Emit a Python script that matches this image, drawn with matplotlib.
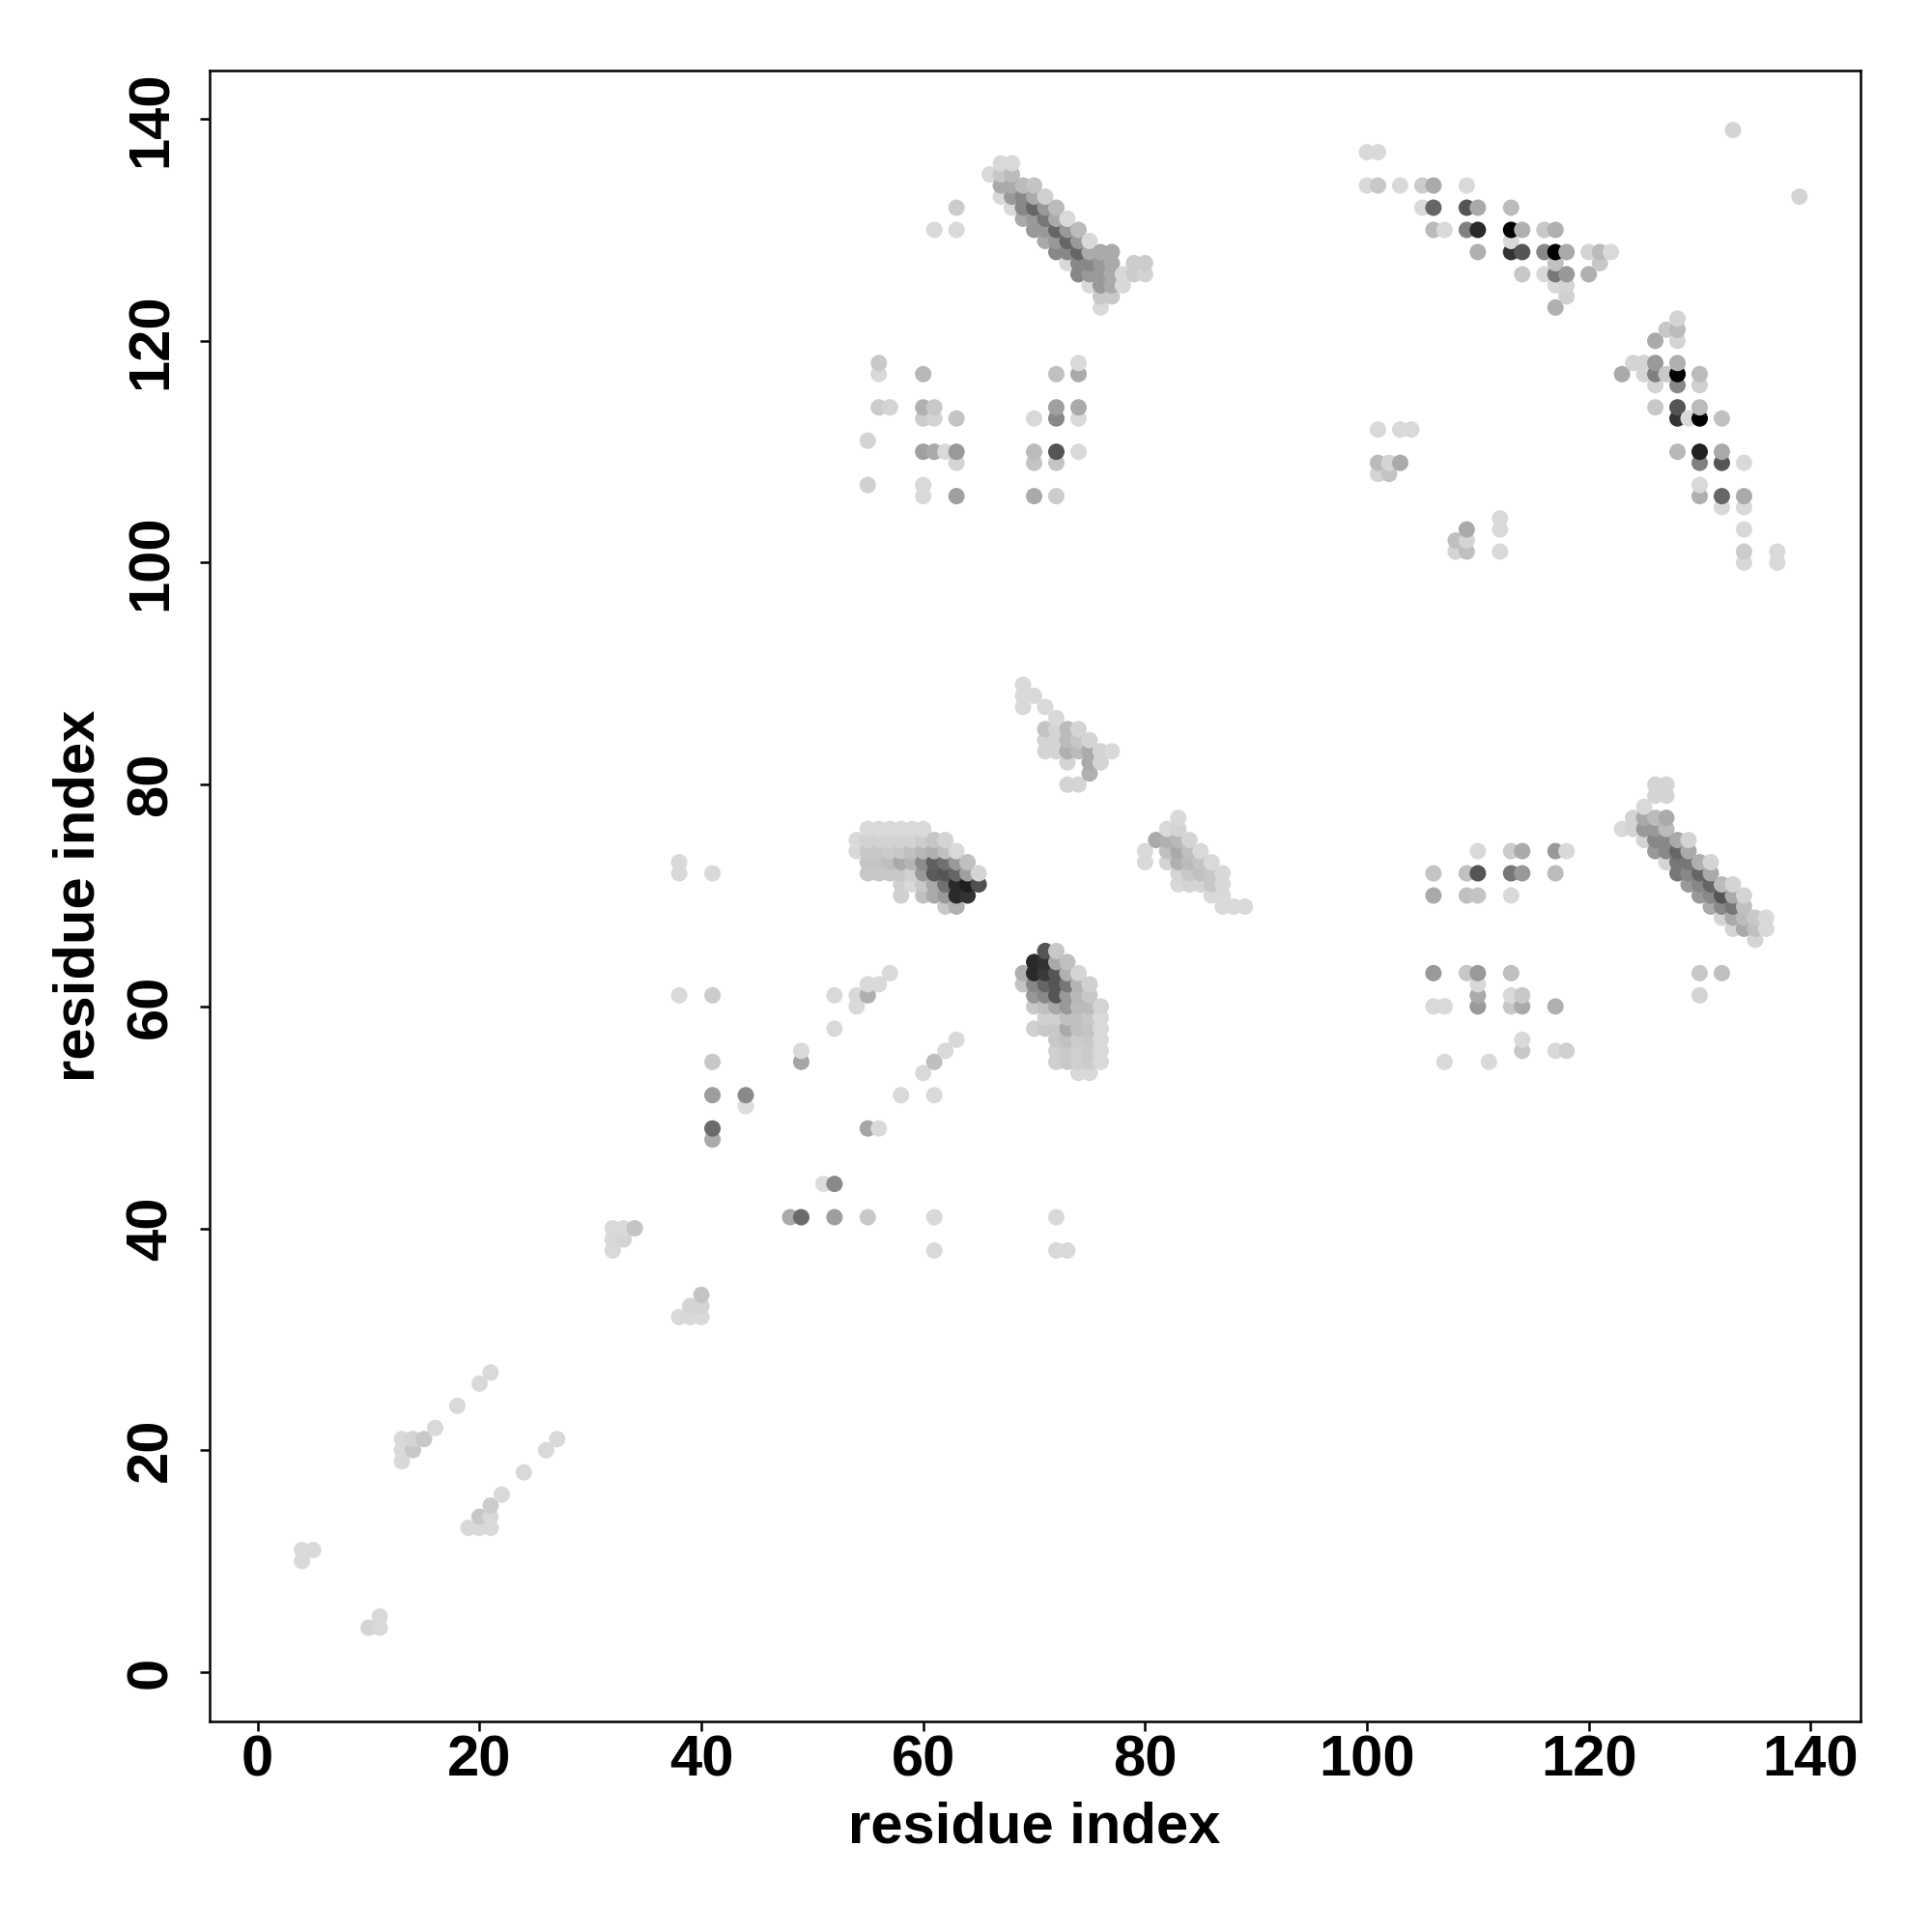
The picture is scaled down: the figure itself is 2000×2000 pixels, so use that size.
import matplotlib
matplotlib.use("Agg")
import matplotlib.pyplot as plt
import numpy as np

# contact map points: (residue i, residue j, grey level 0-255)
diag_low = [
    (4, 10, 217), (4, 11, 217), (5, 11, 217),
    (10, 4, 212), (11, 4, 217), (11, 5, 217),
    (13, 19, 217), (13, 20, 217), (13, 21, 217), (14, 20, 200), (14, 21, 212),
    (15, 21, 200), (16, 22, 217), (18, 24, 217), (20, 26, 217), (21, 27, 217),
    (19, 13, 217), (20, 13, 217), (21, 13, 217), (20, 14, 200), (21, 14, 217),
    (21, 15, 204), (22, 16, 217), (24, 18, 217), (26, 20, 217), (27, 21, 217),
    (32, 38, 217), (32, 39, 217), (32, 40, 217), (33, 39, 212), (33, 40, 217), (34, 40, 196),
    (38, 32, 217), (39, 32, 217), (40, 32, 217), (39, 33, 212), (40, 33, 212), (40, 34, 196),
]

mid_sparse = [
    (38, 61, 217), (41, 61, 204), (41, 55, 200), (41, 52, 158), (41, 49, 107), (41, 48, 170),
    (44, 51, 220), (44, 52, 138), (49, 56, 217), (49, 55, 165), (52, 61, 217), (52, 58, 217),
    (54, 60, 217), (54, 61, 217), (55, 61, 175), (55, 62, 217), (56, 62, 217), (57, 63, 217),
    (55, 49, 165), (56, 49, 217), (51, 44, 220), (52, 44, 138), (48, 41, 170), (49, 41, 107),
    (52, 41, 158), (55, 41, 200), (38, 72, 217), (38, 73, 217), (41, 72, 217),
    (61, 41, 217), (61, 38, 217), (72, 41, 217), (72, 38, 217), (73, 38, 217),
    (58, 52, 217), (60, 54, 217), (61, 55, 190), (62, 56, 217), (63, 57, 217), (61, 52, 217),
]

block_upper = [
    (55, 76, 217), (56, 76, 217), (57, 76, 217), (58, 76, 217), (59, 76, 217), (60, 76, 217),
    (54, 75, 217), (55, 75, 210), (56, 75, 210), (57, 75, 210), (58, 75, 210), (59, 75, 210),
    (60, 75, 205), (61, 75, 198), (62, 75, 212),
    (54, 74, 217), (55, 74, 200), (56, 74, 200), (57, 74, 204), (58, 74, 200), (59, 74, 192),
    (60, 74, 184), (61, 74, 176), (62, 74, 192), (63, 74, 217),
    (55, 73, 196), (56, 73, 196), (57, 73, 191), (58, 73, 170), (59, 73, 180), (60, 73, 140),
    (61, 73, 96), (62, 73, 112), (63, 73, 153), (64, 73, 192),
    (55, 72, 200), (56, 72, 200), (57, 72, 200), (58, 72, 200), (59, 72, 208), (60, 72, 153),
    (61, 72, 90), (62, 72, 85), (63, 72, 102), (64, 72, 160), (65, 72, 212),
    (58, 71, 208), (59, 71, 217), (60, 71, 200), (61, 71, 168), (62, 71, 112), (63, 71, 42),
    (64, 71, 30), (65, 71, 80),
    (58, 70, 208), (60, 70, 192), (61, 70, 170), (62, 70, 153), (63, 70, 42), (64, 70, 51),
    (62, 69, 200), (63, 69, 176),
]

block_lower = [
    (71, 65, 85), (72, 65, 200),
    (70, 64, 42), (71, 64, 51), (72, 64, 168), (73, 64, 192),
    (69, 63, 176), (70, 63, 42), (71, 63, 58), (72, 63, 85), (73, 63, 176), (74, 63, 212),
    (69, 62, 196), (70, 62, 136), (71, 62, 102), (72, 62, 85), (73, 62, 119), (74, 62, 180), (75, 62, 208),
    (70, 61, 153), (71, 61, 136), (72, 61, 85), (73, 61, 153), (74, 61, 184), (75, 61, 200),
    (70, 60, 200), (71, 60, 192), (72, 60, 168), (73, 60, 153), (74, 60, 187), (75, 60, 187), (76, 60, 212),
    (71, 59, 208), (72, 59, 208), (73, 59, 192), (74, 59, 192), (75, 59, 200), (76, 59, 217),
    (70, 58, 208), (71, 58, 200), (72, 58, 200), (73, 58, 170), (74, 58, 192), (75, 58, 196), (76, 58, 217),
    (72, 57, 200), (73, 57, 192), (74, 57, 204), (75, 57, 200), (76, 57, 217),
    (72, 56, 208), (73, 56, 200), (74, 56, 208), (75, 56, 204), (76, 56, 217),
    (72, 55, 208), (73, 55, 200), (74, 55, 208), (75, 55, 204), (76, 55, 217),
    (74, 54, 217), (75, 54, 217),
]

mid_triangles = [
    (69, 89, 217), (69, 88, 217), (69, 87, 217), (70, 88, 217), (71, 87, 217), (72, 86, 217),
    (71, 85, 196), (72, 85, 212), (71, 84, 212), (72, 84, 212), (71, 83, 212), (72, 83, 212),
    (73, 85, 187), (74, 85, 212), (73, 84, 187), (74, 84, 200), (75, 84, 212),
    (73, 83, 176), (74, 83, 187), (75, 83, 170), (76, 83, 212), (77, 83, 217),
    (73, 82, 212), (75, 82, 170), (76, 82, 212), (75, 81, 176), (73, 80, 212), (74, 80, 212),
    (83, 77, 217), (82, 76, 217), (83, 76, 212),
    (81, 75, 170), (82, 75, 176), (83, 75, 184), (84, 75, 212),
    (80, 74, 217), (82, 74, 192), (83, 74, 170), (84, 74, 192), (85, 74, 217),
    (80, 73, 217), (82, 73, 212), (83, 73, 176), (84, 73, 187), (85, 73, 196), (86, 73, 217),
    (83, 72, 212), (84, 72, 200), (85, 72, 192), (86, 72, 200), (87, 72, 217),
    (83, 71, 217), (84, 71, 212), (85, 71, 212), (86, 71, 200), (87, 71, 217),
    (86, 70, 217), (87, 70, 217), (87, 69, 217), (88, 69, 217), (89, 69, 217),
]

top_band = [
    (61, 130, 217), (63, 130, 217), (63, 132, 204),
    (67, 136, 217), (68, 136, 217),
    (66, 135, 217), (67, 135, 200), (68, 135, 187),
    (67, 134, 170), (68, 134, 170), (69, 134, 187), (70, 134, 196),
    (67, 133, 217), (68, 133, 153), (69, 133, 136), (70, 133, 170), (71, 133, 208),
    (68, 132, 217), (69, 132, 136), (70, 132, 102), (71, 132, 153), (72, 132, 187),
    (69, 131, 170), (70, 131, 153), (71, 131, 119), (72, 131, 170), (73, 131, 217),
    (70, 130, 153), (71, 130, 153), (72, 130, 102), (73, 130, 153), (74, 130, 187),
    (71, 129, 170), (72, 129, 153), (73, 129, 102), (74, 129, 153), (75, 129, 217),
    (72, 128, 136), (73, 128, 136), (74, 128, 102), (75, 128, 170), (76, 128, 170), (77, 128, 170),
    (73, 127, 217), (74, 127, 136), (75, 127, 136), (76, 127, 153), (77, 127, 170),
    (74, 126, 136), (75, 126, 153), (76, 126, 153), (77, 126, 170), (78, 126, 217),
    (79, 127, 204), (80, 127, 204), (79, 126, 204), (80, 126, 212),
    (75, 125, 217), (76, 125, 153), (77, 125, 170), (78, 125, 217),
    (76, 124, 200), (77, 124, 200), (76, 123, 217),
]

top_grid = [
    (56, 118, 200), (56, 117, 217), (60, 117, 184), (56, 114, 204), (57, 114, 212),
    (60, 114, 176), (61, 114, 200), (60, 113, 204), (61, 113, 212), (63, 113, 196),
    (55, 111, 212), (60, 110, 160), (61, 110, 170), (62, 110, 217), (63, 110, 153), (63, 109, 212),
    (55, 107, 208), (60, 107, 217), (60, 106, 217), (63, 106, 160),
    (70, 113, 217), (72, 117, 192), (74, 118, 217), (74, 117, 170), (72, 114, 160),
    (72, 113, 136), (74, 114, 170), (74, 113, 217),
    (70, 110, 187), (70, 109, 196), (72, 110, 85), (72, 109, 196), (74, 110, 217),
    (70, 106, 170), (72, 106, 204),
]

top_right = [
    (100, 137, 217), (101, 137, 217),
    (100, 134, 217), (101, 134, 200), (103, 134, 217), (105, 134, 204), (106, 134, 170), (109, 134, 217),
    (105, 132, 217), (106, 132, 102), (109, 132, 85), (110, 132, 170), (113, 132, 187),
    (106, 130, 187), (107, 130, 217), (109, 130, 128), (110, 130, 42), (113, 130, 0),
    (113, 129, 217), (114, 130, 176), (116, 130, 200), (117, 130, 176),
    (110, 128, 176), (113, 128, 51), (114, 128, 85), (116, 128, 136), (117, 128, 0),
    (118, 128, 170), (120, 128, 212), (121, 128, 187), (122, 128, 217),
    (117, 127, 192), (121, 127, 200),
    (114, 126, 200), (116, 126, 217), (117, 126, 119), (118, 126, 153), (120, 126, 176),
    (117, 125, 217), (118, 125, 212), (118, 124, 208), (117, 123, 176),
    (101, 112, 217), (103, 112, 217), (104, 112, 217),
    (101, 109, 187), (102, 109, 212), (103, 109, 170), (101, 108, 212), (102, 108, 196),
    (108, 102, 192), (109, 103, 170), (109, 102, 212), (108, 101, 212), (109, 101, 192),
    (112, 104, 217), (112, 103, 217), (112, 101, 217),
]

right_band = [
    (133, 139, 212), (139, 133, 212),
    (128, 122, 212), (127, 121, 200), (128, 121, 187), (126, 120, 170), (128, 120, 212),
    (124, 118, 212), (125, 118, 212), (126, 118, 153), (128, 118, 176),
    (123, 117, 170), (125, 117, 212), (126, 117, 128), (127, 117, 200), (128, 117, 0), (130, 117, 187),
    (126, 116, 212), (128, 116, 136), (130, 116, 208),
    (126, 114, 200), (128, 114, 85), (130, 114, 187),
    (128, 113, 51), (129, 113, 217), (130, 113, 0), (132, 113, 192),
    (128, 110, 184), (130, 110, 34), (132, 110, 170),
    (130, 109, 128), (132, 109, 85), (134, 109, 217),
    (130, 107, 217), (130, 106, 176), (132, 106, 102), (134, 106, 170),
    (132, 105, 217), (134, 105, 217), (134, 103, 217),
    (134, 101, 204), (134, 100, 217), (137, 101, 217), (137, 100, 217),
]

right_grid = [
    (110, 74, 217), (113, 74, 204), (114, 74, 170), (117, 74, 153), (118, 74, 217),
    (106, 72, 196), (109, 72, 192), (110, 72, 85), (113, 72, 119), (114, 72, 153), (117, 72, 187),
    (106, 70, 170), (109, 70, 192), (110, 70, 196), (113, 70, 217),
    (106, 63, 153), (109, 63, 200), (110, 63, 153), (113, 63, 192),
    (110, 62, 217), (110, 61, 170), (110, 60, 153),
    (113, 61, 217), (114, 61, 200), (113, 60, 200), (114, 60, 170), (117, 60, 176),
    (106, 60, 217), (107, 60, 217),
    (114, 57, 217), (114, 56, 200), (117, 56, 217), (118, 56, 208),
    (107, 55, 217), (111, 55, 217),
]

right_band_low = [
    (126, 80, 212), (127, 80, 212), (126, 79, 212), (127, 79, 212), (125, 78, 217),
    (124, 77, 212), (125, 77, 170), (126, 77, 187), (127, 77, 170),
    (123, 76, 217), (124, 76, 212), (125, 76, 153), (126, 76, 153), (127, 76, 187),
    (125, 75, 212), (126, 75, 136), (127, 75, 136), (128, 75, 170), (129, 75, 212),
    (126, 74, 153), (127, 74, 136), (128, 74, 102), (129, 74, 170),
    (127, 73, 212), (128, 73, 119), (129, 73, 119), (130, 73, 176), (131, 73, 212),
    (128, 72, 119), (129, 72, 136), (130, 72, 102), (131, 72, 170),
    (129, 71, 153), (130, 71, 136), (131, 71, 102), (132, 71, 187), (133, 71, 212),
    (130, 70, 153), (131, 70, 136), (132, 70, 85), (133, 70, 170), (134, 70, 212),
    (131, 69, 170), (132, 69, 136), (133, 69, 119), (134, 69, 192),
    (132, 68, 212), (133, 68, 170), (134, 68, 187), (135, 68, 200), (136, 68, 217),
    (133, 67, 212), (134, 67, 170), (135, 67, 192), (136, 67, 217),
    (135, 66, 212),
    (130, 63, 200), (132, 63, 192), (130, 61, 212),
]

tick_values = [0, 20, 40, 60, 80, 100, 120, 140]
axis_title = "residue index"

points = (diag_low + mid_sparse + block_upper + block_lower + mid_triangles
          + top_band + top_grid + top_right + right_band + right_grid + right_band_low)
points = sorted(points, key=lambda p: (p[0], p[1]))
xs = np.array([p[0] for p in points])
ys = np.array([p[1] for p in points])
greys = np.array([p[2] for p in points]) / 255.0
colors = np.stack([greys, greys, greys], axis=1)

plt.rcParams["font.family"] = ["Liberation Sans", "DejaVu Sans"]
plt.rcParams["font.weight"] = "bold"

fig = plt.figure(figsize=(20, 20), dpi=100)
ax = fig.add_axes([0.1084, 0.109, 0.8546, 0.8547])
ax.scatter(xs, ys, s=150, c=colors, edgecolors="none", zorder=2)

ax.set_xlim(-4.35, 144.5)
ax.set_ylim(-4.45, 144.4)
ax.set_xticks(tick_values)
ax.set_yticks(tick_values)
ax.set_xticklabels([str(t) for t in tick_values], fontsize=43, fontweight="bold")
ax.set_yticklabels([str(t) for t in tick_values], fontsize=43, fontweight="bold")
for sp in ax.spines.values():
    sp.set_linewidth(1.8)
ax.tick_params(axis="both", direction="out", length=7, width=1.8)
ax.tick_params(axis="x", pad=3)
ax.tick_params(axis="y", pad=25)
for lab in ax.get_yticklabels():
    lab.set_rotation(90)
    lab.set_rotation_mode("anchor")
    lab.set_ha("center")
    lab.set_va("baseline")

fig.text(0.5355, 1 - 1908 / 2000, axis_title, ha="center", va="baseline",
         fontsize=43, fontweight="bold")
fig.text(98 / 2000, 0.5365, axis_title, ha="center", va="baseline", rotation=90,
         rotation_mode="anchor", fontsize=43, fontweight="bold")

fig.savefig("out.png", dpi=100, facecolor="white")
